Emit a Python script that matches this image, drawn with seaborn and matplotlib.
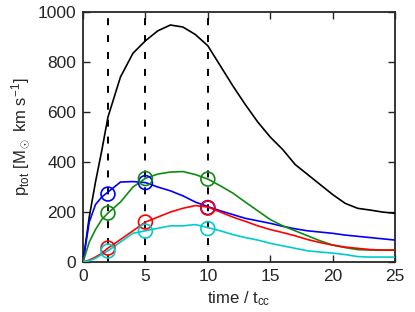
import numpy as np
import pandas as pd
import matplotlib
matplotlib.use("Agg")
import matplotlib.pyplot as plt
import seaborn as sns

sns.set_style("ticks")
plt.rcParams['font.family'] = ['Liberation Sans', 'DejaVu Sans']
plt.rcParams['mathtext.fontset'] = 'custom'
plt.rcParams['mathtext.rm'] = 'Liberation Sans'
plt.rcParams['mathtext.it'] = 'Liberation Sans'

time = [0, 0.5, 1, 1.5, 2, 3, 4, 5, 6, 7, 8, 9, 10, 11, 12, 13, 14, 15,
        16, 17, 18, 19, 20, 21, 22, 23, 24, 25]
black = [0, 180, 320, 445, 580, 740, 835, 885, 925, 948, 940, 910, 865, 785,
         705, 630, 560, 500, 450, 390, 350, 310, 270, 235, 215, 208, 200, 195]
blue = [0, 160, 230, 260, 280, 320, 322, 318, 300, 285, 265, 240, 222, 205,
        190, 175, 165, 155, 143, 133, 125, 120, 115, 108, 103, 98, 93, 88]
green = [0, 80, 130, 170, 196, 240, 300, 335, 352, 360, 362, 350, 332, 305,
         276, 240, 205, 170, 145, 125, 105, 85, 68, 58, 50, 48, 48, 48]
red = [0, 8, 20, 35, 56, 90, 125, 160, 180, 200, 215, 226, 220, 200, 180,
       163, 145, 130, 118, 105, 90, 78, 68, 60, 55, 50, 48, 48]
cyan = [0, 5, 15, 30, 45, 80, 115, 125, 135, 145, 145, 150, 138, 125, 110,
        98, 88, 75, 65, 55, 45, 40, 36, 30, 22, 20, 20, 20]

mark_times = [2, 5, 10]
mark_blue = [272, 318, 218]
mark_green = [196, 334, 332]
mark_red = [56, 160, 216]
mark_cyan = [44, 124, 134]

series_names = ['black', 'blue', 'green', 'red', 'cyan']
colors = {'black': '#000000', 'blue': '#0000ff', 'green': '#108a10',
          'red': '#ff0000', 'cyan': '#00cccc'}

df = pd.concat([pd.DataFrame({'time': time, 'p': v, 'series': n})
                for n, v in zip(series_names, [black, blue, green, red, cyan])])
dm = pd.concat([pd.DataFrame({'time': mark_times, 'p': v, 'series': n})
                for n, v in zip(['blue', 'green', 'red', 'cyan'],
                                [mark_blue, mark_green, mark_red, mark_cyan])])

fig = plt.figure(figsize=(4.15, 3.12), dpi=100)
ax = fig.add_axes([0.2, 0.16, 0.752, 0.8015])

for t in mark_times:
    ax.axvline(t, color='black', lw=1.4, ls=(0, (3.6, 5.1)), zorder=1)

sns.lineplot(data=df, x='time', y='p', hue='series', palette=colors,
             hue_order=series_names, lw=1.2, legend=False, ax=ax, zorder=3)

for n in ['blue', 'green', 'red', 'cyan']:
    sub = dm[dm.series == n]
    ax.scatter(sub['time'], sub['p'], s=100, facecolors='none',
               edgecolors=colors[n], linewidths=1.2, zorder=4)

ax.set_xlim(0, 25)
ax.set_ylim(0, 1000)
ax.set_xticks([0, 5, 10, 15, 20, 25])
ax.set_yticks([0, 200, 400, 600, 800, 1000])
ax.tick_params(direction='in', length=5, width=1, top=True, right=True,
               labelsize=12.5, pad=5)
for s in ax.spines.values():
    s.set_linewidth(1.3)
    s.set_visible(True)

ax.set_xlabel(r'time / t$_{\mathregular{cc}}$', fontsize=12, labelpad=4)
ax.set_ylabel(r'p$_{\mathregular{tot}}$ [M$_\odot$ km s$^{\mathregular{-1}}$]',
              fontsize=12, labelpad=4)

fig.savefig('out.png', dpi=100)
